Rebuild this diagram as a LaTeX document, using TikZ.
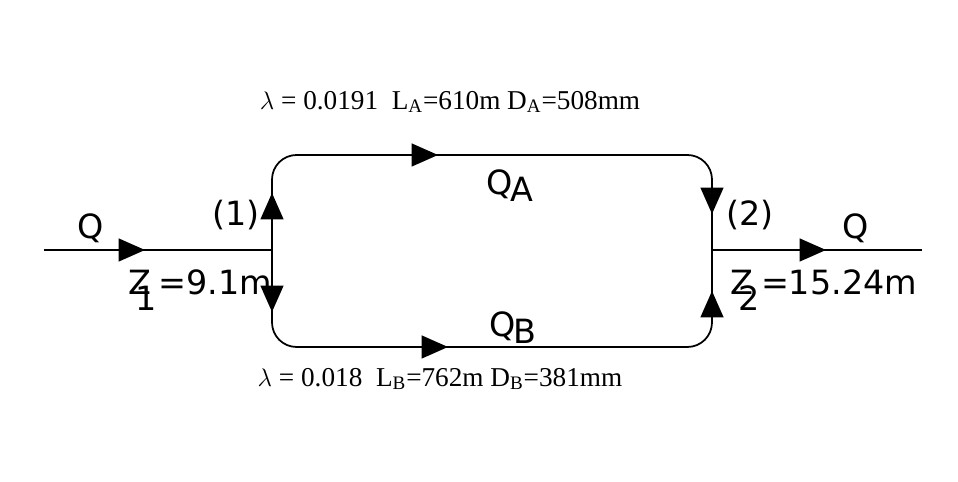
\documentclass[tikz,border=0pt]{standalone}
\usepackage{fontspec}
\setmainfont{Liberation Serif}
\newfontfamily\sansf{DejaVu Sans}
\usetikzlibrary{arrows.meta}
\begin{document}
\begin{tikzpicture}[x=0.02cm,y=-0.02cm,
  pipe/.style={line width=1pt},
  tip/.style={line width=1pt,-{Triangle[length=15pt,width=13pt]}},
  lab/.style={font=\sansf\fontsize{19}{19}\selectfont,inner sep=0pt},
  slab/.style={font=\fontsize{15.5}{15.5}\selectfont,inner sep=0pt}]
\useasboundingbox (0,0) rectangle (958,482);
\coordinate (in) at (44,250);
\coordinate (j1) at (272,250);
\coordinate (j2) at (712,250);
\coordinate (out) at (922,250);
\draw[pipe] (in) -- (j1);
\draw[pipe] (j2) -- (out);
\draw[pipe,rounded corners=14pt] (j1) |- (712,155) -- (j2);
\draw[pipe,rounded corners=14pt] (j1) |- (712,347) -- (j2);
\draw[tip] (120,250) -- (145,250);
\draw[tip] (800,250) -- (826,250);
\draw[tip] (272,220) -- (272,193);
\draw[tip] (272,285) -- (272,312);
\draw[tip] (410,155) -- (438,155);
\draw[tip] (420,347) -- (448,347);
\draw[tip] (712,188) -- (712,214);
\draw[tip] (712,318) -- (712,291);
\node[lab] (q1) at (91,228) {Q};
\node[lab] (p1) at (236,215) {(1)};
\node[lab] (z1) at (200,290) {Z\hspace{-9pt}\raisebox{-9pt}{1}\hspace{1pt}=9.1m};
\node[lab] (qa) at (510,186) {Q\hspace{-1pt}\raisebox{-4pt}{A}};
\node[lab] (qb) at (513,328) {Q\hspace{-1pt}\raisebox{-4pt}{B}};
\node[lab] (p2) at (750,215) {(2)};
\node[lab] (q2) at (856,228) {Q};
\node[lab] (z2) at (824,290) {Z\hspace{-9pt}\raisebox{-9pt}{2}\hspace{1pt}=15.24m};
\node[slab] (la) at (450,102) {$\lambda$ = 0.0191\ \ L\textsubscript{A}=610m D\textsubscript{A}=508mm};
\node[slab] (lb) at (440,379) {$\lambda$ = 0.018\ \ L\textsubscript{B}=762m D\textsubscript{B}=381mm};
\end{tikzpicture}
\end{document}
